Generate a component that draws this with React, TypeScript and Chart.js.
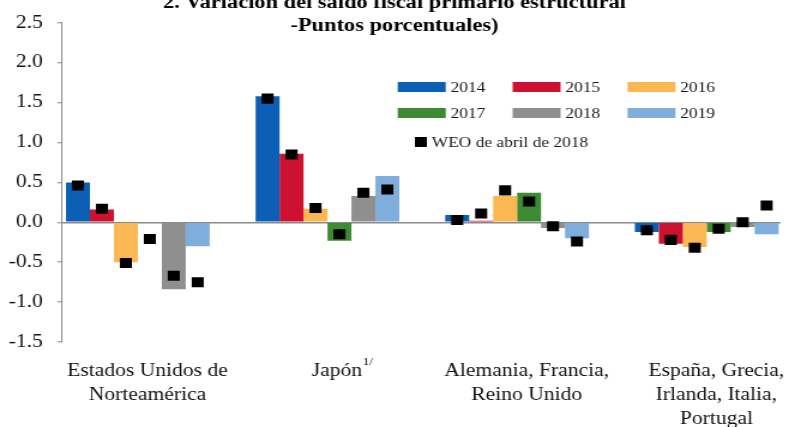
import React, { useEffect, useRef } from 'react';
import { Chart, registerables } from 'chart.js';

Chart.register(...registerables);

// ---------- data ----------
const categories: string[][] = [
  ['Estados Unidos de', 'Norteamérica'],
  ['Japón'],
  ['Alemania, Francia,', 'Reino Unido'],
  ['España, Grecia,', 'Irlanda, Italia,', 'Portugal'],
];
const years = ['2014', '2015', '2016', '2017', '2018', '2019'];
const yearColors = ['#0B5FB4', '#CE1131', '#FBB852', '#3C8A31', '#8F8F8F', '#7FAEDC'];

const v2014 = [0.50, 1.58, 0.09, -0.12];
const v2015 = [0.16, 0.86, 0.02, -0.27];
const v2016 = [-0.50, 0.17, 0.33, -0.31];
const v2017 = [0.00, -0.23, 0.37, -0.12];
const v2018 = [-0.84, 0.33, -0.07, -0.06];
const v2019 = [-0.30, 0.58, -0.20, -0.15];

const weo2014 = [0.46, 1.55, 0.03, -0.10];
const weo2015 = [0.17, 0.85, 0.11, -0.22];
const weo2016 = [-0.51, 0.18, 0.40, -0.32];
const weo2017 = [-0.21, -0.15, 0.26, -0.08];
const weo2018 = [-0.67, 0.37, -0.05, 0.00];
const weo2019 = [-0.75, 0.41, -0.24, 0.21];

const yTicks = [-1.5, -1.0, -0.5, 0.0, 0.5, 1.0, 1.5, 2.0, 2.5];
const titleLines = ['2. Variación del saldo fiscal primario estructural', '-Puntos porcentuales)'];
const weoLabel = 'WEO de abril de 2018';
const japanNote = '1/';

const barValues = [v2014, v2015, v2016, v2017, v2018, v2019];
const weoValues = [weo2014, weo2015, weo2016, weo2017, weo2018, weo2019];

// ---------- layout (pre-stretch coordinates) ----------
const STRETCH = 1.2;
const CANVAS_W = 658;
const CANVAS_H = 427;
const CAT_PCT = 0.758;
const LABEL_OFFSET = 8;
const SERIF = '"Liberation Serif", "Times New Roman", serif';

const overlayPlugin = {
  id: 'overlay',
  afterDraw(chart: any) {
    const ctx = chart.ctx as CanvasRenderingContext2D;
    ctx.save();
    // title
    ctx.fillStyle = '#000';
    ctx.font = `bold 18.7px ${SERIF}`;
    ctx.textAlign = 'center';
    ctx.textBaseline = 'alphabetic';
    titleLines.forEach((t, k) => ctx.fillText(t, chart.width / 2, 8 + k * 23));

    // legend
    const colX = [331.7, 427.5, 523.3];
    const rowY = [87, 113];
    ctx.font = `14.5px ${SERIF}`;
    ctx.textAlign = 'left';
    ctx.textBaseline = 'middle';
    years.forEach((yr, j) => {
      const c = j % 3;
      const r = Math.floor(j / 3);
      const ds = chart.data.datasets[j + 1];
      ctx.fillStyle = ds.backgroundColor;
      ctx.fillRect(colX[c], rowY[r] - 5, 40, 10);
      ctx.fillStyle = '#1a1a1a';
      ctx.fillText(ds.label, colX[c] + 44, rowY[r] + 1);
    });
    ctx.fillStyle = '#000';
    ctx.fillRect(346, 137, 10, 10);
    ctx.fillStyle = '#1a1a1a';
    ctx.fillText(weoLabel, 360, 143);

    // superscript for Japón
    const xs = chart.scales.x;
    const px = xs.getPixelForValue(1) + LABEL_OFFSET;
    ctx.font = `18px ${SERIF}`;
    const w = ctx.measureText(categories[1][0]).width;
    ctx.font = `11px ${SERIF}`;
    ctx.textBaseline = 'alphabetic';
    ctx.fillStyle = '#111';
    ctx.fillText(japanNote, px + w / 2 + 0.5, xs.top + 23);
    ctx.restore();
  },
};

export default function App() {
  const canvasRef = useRef<HTMLCanvasElement | null>(null);

  useEffect(() => {
    document.body.style.margin = '0';
    const canvas = canvasRef.current!;
    const barW = CAT_PCT / years.length;

    const barSets = years.map((yr, j) => ({
      type: 'bar' as const,
      label: yr,
      data: barValues[j].map((v, i) => ({ x: i, y: v })),
      backgroundColor: yearColors[j],
      borderWidth: 0,
      order: 1,
    }));

    const weoPoints: { x: number; y: number }[] = [];
    categories.forEach((_, i) => {
      years.forEach((_, j) => {
        weoPoints.push({ x: i + (j - (years.length - 1) / 2) * barW, y: weoValues[j][i] });
      });
    });

    const chart = new Chart(canvas, {
      type: 'bar',
      data: {
        datasets: [
          {
            type: 'scatter' as const,
            label: weoLabel,
            data: weoPoints,
            pointStyle: 'rect',
            pointRadius: 7.1,
            pointHoverRadius: 7.1,
            backgroundColor: '#000',
            borderWidth: 0,
            order: -1,
          } as any,
          ...barSets,
        ],
      },
      options: {
        responsive: false,
        animation: false,
        devicePixelRatio: 1,
        layout: { padding: { left: 0, right: 6.3, top: 21, bottom: 0 } },
        datasets: {
          bar: { categoryPercentage: CAT_PCT, barPercentage: 1, grouped: true },
        },
        plugins: {
          legend: { display: false },
          title: { display: false },
          tooltip: { enabled: false },
        },
        scales: {
          x: {
            type: 'linear',
            offset: false,
            min: -0.4,
            max: 3.389,
            grid: { display: false, offset: false },
            border: { display: false },
            afterBuildTicks: (scale: any) => {
              scale.ticks = categories.map((_, i) => ({ value: i }));
            },
            afterFit: (scale: any) => {
              scale.height = 85;
            },
            ticks: {
              autoSkip: false,
              maxRotation: 0,
              minRotation: 0,
              padding: 9,
              labelOffset: LABEL_OFFSET,
              color: '#111',
              font: { family: SERIF, size: 18, lineHeight: 1.33 },
              callback: (v: any) => categories[Math.round(Number(v))] ?? '',
            },
          },
          y: {
            min: yTicks[0],
            max: yTicks[yTicks.length - 1],
            afterBuildTicks: (scale: any) => {
              scale.ticks = yTicks.map((v) => ({ value: v }));
            },
            afterFit: (scale: any) => {
              scale.width = 51.7;
            },
            grid: {
              color: (c: any) => (c.tick && c.tick.value === 0 ? '#8a8a8a' : 'rgba(0,0,0,0)'),
              lineWidth: 1.6,
              tickColor: '#8a8a8a',
              tickLength: 4,
              tickWidth: 1,
              drawOnChartArea: true,
            },
            border: { display: true, color: '#8a8a8a', width: 1 },
            ticks: {
              padding: 12,
              color: '#111',
              font: { family: SERIF, size: 18 },
              callback: (v: any) => Number(v).toFixed(1),
            },
          },
        },
      },
      plugins: [overlayPlugin],
    } as any);

    return () => chart.destroy();
  }, []);

  return (
    <div style={{ width: 789, height: 427, overflow: 'hidden', background: '#fff' }}>
      <canvas
        ref={canvasRef}
        width={CANVAS_W}
        height={CANVAS_H}
        style={{ width: `${CANVAS_W * STRETCH - 0.6}px`, height: `${CANVAS_H}px`, display: 'block' }}
      />
    </div>
  );
}
